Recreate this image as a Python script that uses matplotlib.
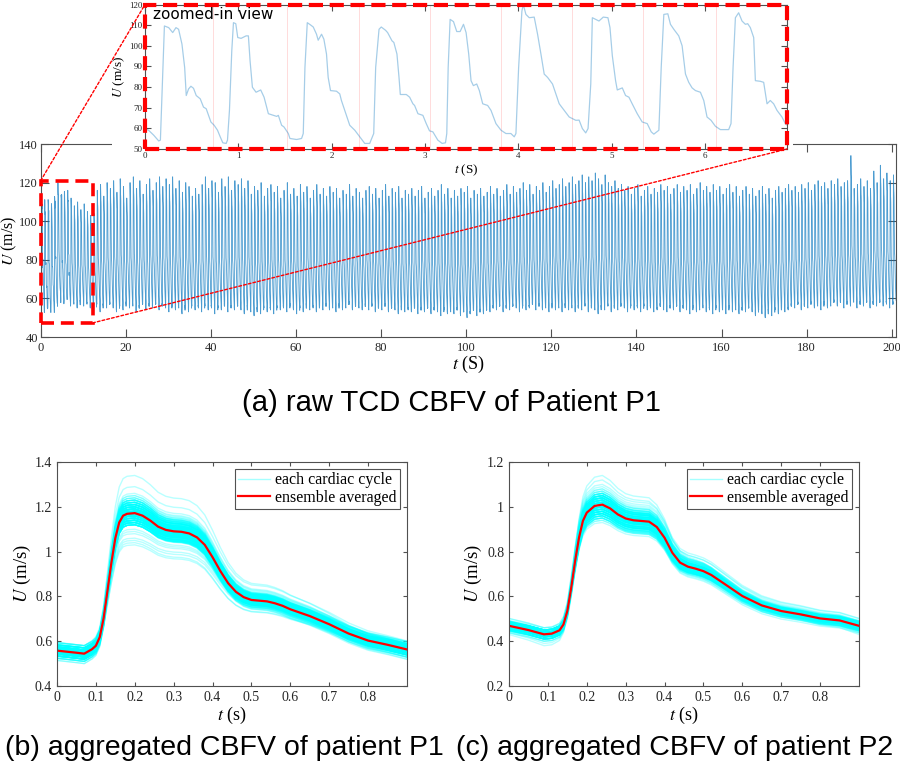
import numpy as np
import matplotlib.pyplot as plt
from matplotlib.patches import Rectangle, ConnectionPatch

plt.rcParams['font.family'] = 'Liberation Serif'
plt.rcParams['mathtext.fontset'] = 'stix'

# ---- patient P1, first 7 s (as seen in the zoomed-in view), cm/s ----
inset_t = [0.00, 0.04, 0.093, 0.147, 0.165, 0.18, 0.208, 0.254, 0.297, 0.332, 0.36, 0.396, 0.425,
           0.442, 0.467, 0.492, 0.52, 0.549, 0.592, 0.627, 0.656, 0.681, 0.706, 0.741, 0.777, 0.806,
           0.834, 0.87, 0.884, 0.905, 0.93, 0.948, 0.973, 0.994, 1.03, 1.083, 1.108, 1.126, 1.151,
           1.19, 1.24, 1.276, 1.322, 1.375, 1.411, 1.429, 1.464, 1.489, 1.536, 1.553, 1.625, 1.678,
           1.696, 1.714, 1.739, 1.774, 1.803, 1.838, 1.856, 1.892, 1.917, 1.945, 1.963, 1.988, 2.052,
           2.087, 2.105, 2.141, 2.194, 2.248, 2.301, 2.355, 2.408, 2.451, 2.472, 2.508, 2.532, 2.578,
           2.60, 2.647, 2.667, 2.70, 2.722, 2.736, 2.80, 2.836, 2.871, 2.889, 2.925, 2.978, 3.014,
           3.049, 3.085, 3.138, 3.184, 3.220, 3.234, 3.249, 3.270, 3.306, 3.341, 3.377, 3.413, 3.441,
           3.469, 3.494, 3.519, 3.555, 3.583, 3.619, 3.672, 3.708, 3.761, 3.815, 3.868, 3.921, 3.957,
           3.975, 4.004, 4.039, 4.054, 4.082, 4.118, 4.171, 4.207, 4.243, 4.278, 4.314, 4.367, 4.403,
           4.439, 4.492, 4.546, 4.617, 4.652, 4.687, 4.723, 4.748, 4.777, 4.794, 4.83, 4.865, 4.911,
           4.961, 4.983, 5.008, 5.043, 5.061, 5.115, 5.150, 5.186, 5.221, 5.275, 5.328, 5.382, 5.425,
           5.453, 5.507, 5.532, 5.560, 5.603, 5.631, 5.667, 5.720, 5.756, 5.792, 5.827, 5.863, 5.899,
           5.952, 5.988, 6.023, 6.066, 6.113, 6.166, 6.255, 6.280, 6.302, 6.327, 6.362, 6.398, 6.434,
           6.459, 6.487, 6.523, 6.541, 6.594, 6.630, 6.666, 6.701, 6.737, 6.773, 6.826, 6.862, 6.92,
           6.97]
inset_u = [60.0, 59.0, 56.7, 53.9, 54.3, 73.5, 109.6, 108.8, 106.4, 108.8, 108.0, 100.8, 89.5,
           75.9, 79.1, 80.4, 79.4, 75.9, 74.3, 70.3, 69.5, 66.3, 63.1, 61.5, 59.1, 55.9,
           53.0, 52.7, 54.3, 68.7, 97.6, 111.2, 110.7, 104.0, 103.6, 104.8, 104.8, 92.7, 79.9,
           77.5, 78.6, 75.1, 67.1, 66.3, 65.8, 66.3, 61.5, 60.7, 57.5, 55.1, 54.6, 55.1,
           57.5, 89.5, 111.2, 110.1, 109.1, 105.6, 102.7, 105.6, 103.2, 96.0, 84.7, 78.3, 78.0,
           76.7, 73.5, 68.7, 61.5, 59.1, 55.9, 52.7, 52.7, 57.5, 89.5, 108.0, 109.1, 107.5,
           106.4, 102.4, 101.6, 96.0, 84.7, 76.4, 76.4, 75.1, 71.9, 71.1, 67.1, 66.3, 62.3,
           58.8, 58.3, 54.3, 52.7, 53.0, 57.5, 89.5, 112.8, 111.7, 106.9, 106.9, 110.4, 106.4,
           96.0, 83.1, 80.7, 81.5, 78.3, 71.9, 71.1, 68.7, 62.3, 59.1, 57.5, 57.5, 55.9,
           57.5, 89.5, 116.8, 120.0, 115.2, 113.6, 113.9, 105.6, 96.0, 86.3, 84.7, 81.5, 76.7,
           71.9, 68.7, 65.5, 63.9, 64.0, 59.9, 57.8, 59.9, 81.5, 113.6, 112.8, 112.0, 113.9,
           113.6, 108.8, 95.2, 83.1, 78.6, 79.6, 75.9, 75.1, 71.9, 67.1, 63.1, 62.3, 58.3,
           57.2, 59.1, 89.5, 115.2, 115.5, 110.4, 108.0, 104.8, 100.0, 86.3, 82.3, 79.6, 78.3,
           77.5, 73.5, 65.5, 63.9, 61.0, 59.4, 59.4, 62.3, 89.5, 113.6, 116.0, 112.0, 110.4,
           110.7, 108.8, 104.0, 83.1, 82.8, 82.3, 71.9, 73.5, 71.9, 68.7, 65.5, 62.3, 60.0,
           59.0]
inset_marks = [0.73, 1.52, 2.29, 3.05, 3.81, 4.58, 5.34, 6.12]

# ---- ensemble averaged cycles (b) and (c), m/s ----
p1_t = [0, 0.05, 0.07, 0.09, 0.10, 0.11, 0.12, 0.13, 0.14, 0.15, 0.16, 0.17, 0.18, 0.20, 0.22,
        0.24, 0.26, 0.28, 0.30, 0.32, 0.34, 0.36, 0.38, 0.40, 0.42, 0.44, 0.46, 0.48, 0.50, 0.52,
        0.54, 0.56, 0.58, 0.60, 0.65, 0.70, 0.75, 0.80, 0.85, 0.90]
p1_mean = [0.568, 0.559, 0.555, 0.574, 0.589, 0.626, 0.708, 0.827, 0.946, 1.050, 1.117, 1.146, 1.154,
           1.157, 1.146, 1.125, 1.099, 1.085, 1.079, 1.077, 1.070, 1.053, 1.021, 0.968, 0.909, 0.857,
           0.820, 0.797, 0.785, 0.782, 0.779, 0.771, 0.760, 0.745, 0.716, 0.681, 0.641, 0.611, 0.593,
           0.573]
p2_t = [0, 0.05, 0.09, 0.11, 0.13, 0.14, 0.15, 0.16, 0.17, 0.18, 0.19, 0.20, 0.22, 0.24, 0.26,
        0.28, 0.30, 0.32, 0.34, 0.36, 0.38, 0.40, 0.42, 0.44, 0.46, 0.48, 0.50, 0.52, 0.55, 0.60,
        0.65, 0.70, 0.75, 0.80, 0.85, 0.90]
p2_mean = [0.472, 0.453, 0.434, 0.437, 0.452, 0.478, 0.538, 0.642, 0.761, 0.865, 0.940, 0.977, 1.007,
           1.013, 0.996, 0.969, 0.951, 0.943, 0.940, 0.937, 0.913, 0.865, 0.798, 0.754, 0.736, 0.727,
           0.716, 0.699, 0.664, 0.605, 0.563, 0.538, 0.523, 0.505, 0.496, 0.472]

# ---- beats after the first 7 s of P1: systolic peak / end-diastolic value (cm/s) ----
beat_period = 0.77
beat_start = 6.97
p1_peaks = [112, 108, 110, 106, 109, 105, 103, 104, 116, 119, 113, 120, 117,
            121, 115, 122, 118, 112, 120, 123, 117, 121, 114, 119, 122, 116,
            120, 123, 118, 122, 119, 123, 117, 121, 115, 120, 118, 113, 117,
            114, 119, 123, 117, 121, 120, 115, 122, 118, 123, 116, 121, 119,
            122, 117, 121, 114, 118, 116, 120, 113, 117, 119, 115, 118, 112,
            116, 120, 114, 117, 113, 119, 115, 118, 112, 116, 119, 114, 117,
            113, 118, 115, 117, 112, 116, 114, 119, 113, 117, 115, 112, 116,
            118, 114, 117, 112, 116, 119, 113, 117, 115, 118, 112, 116, 114,
            117, 113, 116, 118, 112, 115, 117, 113, 116, 119, 114, 117, 112,
            116, 113, 117, 115, 118, 112, 116, 114, 117, 113, 115, 118, 114,
            117, 113, 116, 119, 114, 118, 115, 117, 120, 116, 119, 114, 118,
            116, 120, 115, 118, 121, 117, 119, 122, 118, 120, 123, 119, 121,
            124, 120, 123, 121, 125, 122, 119, 124, 120, 118, 121, 117, 119,
            116, 118, 114, 117, 119, 113, 116, 118, 114, 117, 115, 119, 116,
            118, 114, 117, 119, 115, 118, 116, 119, 114, 117, 120, 116, 118,
            115, 119, 116, 118, 114, 117, 119, 115, 118, 113, 116, 118, 114,
            117, 113, 116, 118, 114, 117, 112, 116, 118, 115, 117, 119, 116,
            118, 115, 119, 117, 120, 116, 119, 121, 118, 120, 117, 121, 119,
            122, 118, 120, 121, 134, 117, 119, 122, 118, 121, 117, 126, 120,
            129, 122, 125, 121, 124]
p1_troughs = [56, 57, 55, 58, 56, 57, 55, 54, 57, 53, 56, 55, 57,
              55, 53, 56, 54, 57, 55, 56, 53, 55, 57, 54, 56, 55,
              57, 54, 56, 55, 53, 56, 54, 55, 52, 55, 53, 56, 54,
              55, 53, 56, 54, 55, 52, 55, 54, 56, 53, 55, 54, 56,
              54, 52, 55, 53, 51, 54, 52, 55, 53, 54, 52, 55, 54,
              55, 53, 56, 54, 52, 55, 53, 56, 54, 55, 53, 56, 54,
              56, 54, 55, 53, 56, 54, 55, 57, 54, 56, 55, 54, 56,
              54, 56, 53, 55, 54, 56, 53, 55, 54, 52, 55, 53, 54,
              53, 55, 52, 54, 53, 55, 52, 54, 53, 51, 54, 52, 53,
              52, 54, 51, 53, 50, 52, 54, 51, 53, 52, 54, 53, 55,
              54, 56, 53, 55, 54, 56, 55, 53, 56, 54, 55, 57, 54,
              56, 54, 55, 53, 56, 54, 55, 53, 56, 54, 55, 53, 55,
              54, 56, 53, 55, 54, 52, 55, 54, 56, 53, 55, 54, 56,
              55, 53, 56, 54, 55, 53, 56, 54, 55, 53, 54, 56, 54,
              53, 55, 54, 56, 53, 55, 54, 52, 55, 53, 54, 55, 53,
              54, 52, 55, 53, 54, 52, 55, 53, 54, 52, 54, 53, 55,
              53, 51, 54, 52, 50, 53, 51, 54, 52, 55, 53, 54, 56,
              55, 57, 54, 56, 55, 57, 55, 56, 54, 57, 55, 56, 58,
              56, 58, 55, 57, 56, 58, 55, 57, 56, 58, 55, 57, 56,
              58, 56, 57, 55, 57]

# ---- patient P2 cycles: systolic peak / end-diastolic value (m/s) ----
p2_peaks = [1.02, 0.98, 1.05, 1.00, 0.96, 1.03, 1.08, 0.99, 1.01, 0.95, 1.04, 1.00, 0.97, 1.06, 1.02,
            0.99, 1.03, 0.94, 1.01, 1.05, 0.98, 1.02, 1.10, 0.97, 1.00, 1.04, 0.96, 1.03, 0.99, 1.01,
            1.05, 0.97, 1.02, 0.93, 1.00, 1.06, 0.98, 1.03, 1.01, 0.95, 1.04, 1.00, 1.07, 0.98, 1.02,
            0.96, 1.01, 1.04, 0.99, 1.14, 1.02, 0.97, 1.05, 1.00, 0.98, 1.03, 0.95, 1.01, 1.06, 0.99,
            1.03, 0.98, 1.00, 1.05, 0.96, 1.02, 0.99, 1.04, 0.94, 1.01, 1.07, 0.98, 1.02, 1.00, 0.97,
            1.04, 1.00, 0.97, 1.03, 1.08, 0.99, 1.01, 0.96, 1.05, 1.02, 0.98, 1.04, 1.00, 0.95, 1.03,
            0.99, 1.06, 1.01, 0.97, 1.03, 1.00, 1.05, 0.98, 1.02, 0.96, 1.04, 1.01, 1.12, 0.99, 1.02,
            1.00, 0.97, 1.04, 1.01, 0.98, 1.06, 1.02, 0.95, 1.03, 1.00, 0.99, 1.05, 0.97, 1.02, 1.04,
            0.98, 1.03, 1.00, 1.07, 0.96, 1.01, 1.04, 0.99, 1.02, 0.97, 1.05, 1.00, 0.98, 1.03, 1.01,
            1.06, 0.99, 1.02, 0.95, 1.04, 1.00, 0.98, 1.03, 1.09, 1.01, 0.97, 1.02, 1.05, 0.99, 1.00,
            1.03, 0.97, 1.01, 1.04, 0.98, 1.02, 1.00, 0.96, 1.05, 1.01, 0.99, 1.03, 0.97, 1.02, 1.06,
            0.99, 1.02, 1.00, 1.04, 0.97, 1.03, 1.01, 0.98, 1.05, 1.00, 0.96, 1.02, 1.04, 0.99, 1.01]
p2_troughs = [0.43, 0.45, 0.42, 0.44, 0.41, 0.43, 0.46, 0.42, 0.44, 0.40, 0.43, 0.45, 0.42, 0.44, 0.43,
              0.44, 0.42, 0.45, 0.43, 0.41, 0.44, 0.42, 0.46, 0.43, 0.45, 0.42, 0.44, 0.43, 0.41, 0.44,
              0.42, 0.44, 0.43, 0.45, 0.42, 0.40, 0.43, 0.44, 0.42, 0.45, 0.43, 0.41, 0.44, 0.42, 0.43,
              0.45, 0.43, 0.42, 0.44, 0.38, 0.43, 0.45, 0.42, 0.44, 0.43, 0.41, 0.44, 0.42, 0.45, 0.43,
              0.42, 0.44, 0.43, 0.41, 0.45, 0.42, 0.44, 0.43, 0.46, 0.42, 0.44, 0.41, 0.43, 0.45, 0.42,
              0.44, 0.42, 0.45, 0.43, 0.41, 0.44, 0.43, 0.42, 0.45, 0.43, 0.44, 0.42, 0.40, 0.44, 0.43,
              0.45, 0.43, 0.42, 0.44, 0.43, 0.45, 0.42, 0.44, 0.41, 0.43, 0.44, 0.42, 0.39, 0.44, 0.43,
              0.42, 0.44, 0.43, 0.45, 0.42, 0.44, 0.43, 0.41, 0.44, 0.42, 0.45, 0.43, 0.44, 0.42, 0.43,
              0.44, 0.42, 0.45, 0.43, 0.41, 0.44, 0.42, 0.43, 0.45, 0.42, 0.44, 0.43, 0.41, 0.44, 0.42,
              0.43, 0.45, 0.42, 0.44, 0.43, 0.41, 0.44, 0.42, 0.45, 0.43, 0.44, 0.42, 0.43, 0.45, 0.42,
              0.44, 0.43, 0.41, 0.44, 0.42, 0.45, 0.43, 0.44, 0.42, 0.43, 0.45, 0.42, 0.44, 0.43, 0.41,
              0.43, 0.44, 0.42, 0.45, 0.43, 0.42, 0.44, 0.43, 0.41, 0.44, 0.42, 0.45, 0.43, 0.44, 0.42]


def scaled_cycles(tmpl, peaks, troughs):
    tmpl = np.asarray(tmpl)
    shape = (tmpl - tmpl.min()) / (tmpl.max() - tmpl.min())
    pk = np.asarray(peaks, dtype=float)[:, None]
    tr = np.asarray(troughs, dtype=float)[:, None]
    return tr + shape[None, :] * (pk - tr)


# build the full P1 record: measured start + one template beat per peak/trough pair
p1_beats = scaled_cycles(p1_mean, p1_peaks, p1_troughs)
sig_t = list(inset_t)
sig_u = list(inset_u)
for k, beat in enumerate(p1_beats):
    t0 = beat_start + k * beat_period
    sig_t.extend(t0 + np.asarray(p1_t) * beat_period / 0.9)
    sig_u.extend(beat)

p1_cycles = p1_beats / 100.0
p2_cycles = scaled_cycles(p2_mean, p2_peaks, p2_troughs)

W, H = 900, 762
fig = plt.figure(figsize=(9, 7.62), dpi=100)


def frac(x0, y0, x1, y1):
    return [x0 / W, 1 - y1 / H, (x1 - x0) / W, (y1 - y0) / H]


axcol = '#505050'


def style(ax, ticklen, fs):
    for s in ax.spines.values():
        s.set_color(axcol)
        s.set_linewidth(0.8)
    ax.tick_params(direction='in', top=True, right=True, length=ticklen, width=0.8,
                   colors=axcol, labelcolor='#262626', labelsize=fs)


# ---- (a) main record ----
ax = fig.add_axes(frac(40.7, 144, 896, 337))
ax.set_zorder(0)
ax.plot(sig_t, sig_u, color='#0072BD', lw=0.6, alpha=0.7)
ax.set_xlim(0, 201)
ax.set_ylim(40, 140)
ax.set_xticks(range(0, 201, 20))
ax.set_yticks(range(40, 141, 20))
style(ax, 6, 9)
ax.tick_params(axis='y', pad=2)
ax.set_xlabel(r'$t$ (S)', fontsize=13, labelpad=0)
ax.set_ylabel(r'$U$ (m/s)', fontsize=11.5)
ax.yaxis.set_label_coords((19 - 40.7) / 855, 0.5)
ax.add_patch(Rectangle((0, 47.3), 12.2, 121 - 47.3, fill=False, ec='red', lw=2.6,
                       ls=(0, (3.6, 1.9)), clip_on=False, zorder=5))

# white strip hiding the top frame behind the zoomed-in view
fig.add_artist(Rectangle((112 / W, 1 - 153 / H), (793 - 112) / W, 14 / H, transform=fig.transFigure,
                         fc='white', ec='none', zorder=0.5))

# ---- zoomed-in view ----
axin = fig.add_axes(frac(145, 4.5, 787, 149))
axin.set_zorder(1)
for m in inset_marks:
    axin.axvline(m, color='#ffd6d6', lw=0.6)
axin.plot(inset_t, inset_u, color='#0072BD', lw=0.9, alpha=0.35)
axin.set_xlim(0, 6.88)
axin.set_ylim(50, 120)
axin.set_xticks(range(0, 7))
axin.set_yticks(range(50, 121, 10))
style(axin, 4.5, 6.5)
axin.tick_params(pad=2)
axin.set_xlabel(r'$t$ (S)', fontsize=9.5, labelpad=2)
axin.set_ylabel(r'$U$ (m/s)', fontsize=9.5, labelpad=1)
axin.text(0.012, 0.985, 'zoomed-in view', transform=axin.transAxes, ha='left', va='top',
          fontsize=11, family='DejaVu Sans', zorder=6)
axin.add_patch(Rectangle((0, 0), 1, 1, transform=axin.transAxes, fill=False, ec='red', lw=3,
                         ls=(0, (3.4, 1.6)), clip_on=False, zorder=7))

for (xa, ya), (xb, yb) in [((0, 121), (0, 1)), ((12.2, 47.3), (1, 0))]:
    con = ConnectionPatch(xyA=(xa, ya), coordsA=ax.transData, xyB=(xb, yb), coordsB=axin.transAxes,
                          color='red', lw=1.0, ls=(0, (2, 1.5)), zorder=8)
    fig.add_artist(con)

fig.text(451 / W, 1 - 403 / H, '(a) raw TCD CBFV of Patient P1', ha='center', va='center',
         fontsize=21, family='Liberation Sans')


# ---- (b), (c) aggregated cycles ----
def cycle_panel(box, t, cycles, ylim, caption, cx, ylab_x):
    a = fig.add_axes(frac(*box))
    a.plot(t, cycles.T, color='#00ffff', lw=1.0, alpha=0.28)
    a.plot([], [], color='#00ffff', lw=1.0, alpha=0.35, label='each cardiac cycle')
    a.plot(t, cycles.mean(axis=0), color='red', lw=1.6, label='ensemble averaged')
    a.set_xlim(0, 0.9)
    a.set_ylim(*ylim)
    a.set_xticks(np.arange(0, 0.85, 0.1))
    a.set_yticks(np.arange(ylim[0], ylim[1] + 0.01, 0.2))
    a.xaxis.set_major_formatter('{x:g}')
    a.yaxis.set_major_formatter(plt.FuncFormatter(lambda v, p: f'{v:.1f}'.rstrip('0').rstrip('.')))
    style(a, 3, 10)
    a.set_xlabel(r'$t$ (s)', fontsize=13, labelpad=1)
    a.set_ylabel(r'$U$ (m/s)', fontsize=13.5)
    a.yaxis.set_label_coords((ylab_x - box[0]) / (box[2] - box[0]), 0.5)
    leg = a.legend(loc='upper right', fontsize=11.5, frameon=True, fancybox=False,
                   edgecolor='#262626', borderpad=0.2, labelspacing=0.1, handlelength=2.0,
                   handletextpad=0.3, borderaxespad=0.45)
    leg.get_frame().set_linewidth(0.8)
    fig.text(cx / W, 1 - 748 / H, caption, ha='center', va='center', fontsize=20.5,
             family='Liberation Sans')


cycle_panel((57, 462, 407, 686), p1_t, p1_cycles, (0.4, 1.4),
            '(b) aggregated CBFV of patient P1', 224, 33)
cycle_panel((509, 462, 859, 686), p2_t, p2_cycles, (0.2, 1.2),
            '(c) aggregated CBFV of patient P2', 675, 484)

fig.savefig('out.png', dpi=100)
